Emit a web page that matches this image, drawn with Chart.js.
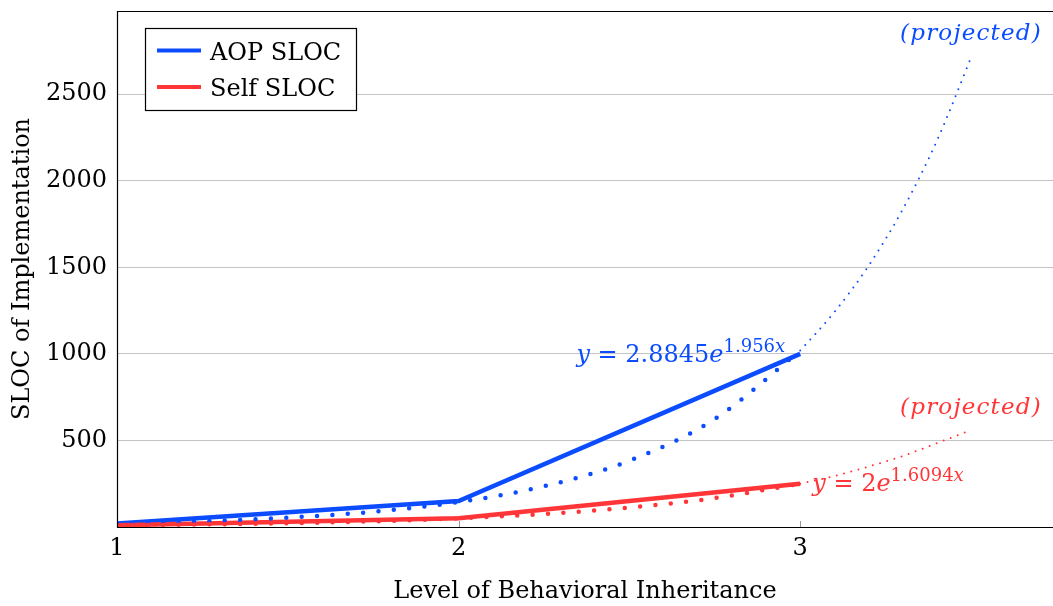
<!DOCTYPE html>
<html><head><meta charset="utf-8">
<script src="https://cdn.jsdelivr.net/npm/chart.js@4.4.0/dist/chart.umd.min.js"></script>
<style>html,body{margin:0;padding:0;background:#fff}#wrap{width:1053px;height:606px;position:relative}</style>
</head><body><div id="wrap"><canvas id="c"></canvas></div>
<script>
// ---- data ----
const levels = [1, 2, 3];
const aopSloc = [20, 150, 1000];
const selfSloc = [10, 50, 250];
const fitLevels = [1, 1.25, 1.5, 1.75, 2, 2.25, 2.5, 2.75, 3];
const aopFit = [20, 33, 54, 88, 144, 235, 383, 624, 1019];
const selfFit = [10, 15, 22, 33, 50, 75, 112, 167, 250];
const projLevels = [3, 3.1, 3.2, 3.3, 3.4, 3.5];
const aopProj = [1019, 1241, 1508, 1834, 2230, 2711];
const selfProj = [250, 294, 349, 410, 484, 559];
const xTicks = [1, 2, 3];
const yTicks = [500, 1000, 1500, 2000, 2500];
const seriesNames = ['AOP SLOC', 'Self SLOC'];
const xTitle = 'Level of Behavioral Inheritance';
const yTitle = 'SLOC of Implementation';
const aopEq = {coef: '2.8845', exp: '1.956'};
const selfEq = {coef: '2', exp: '1.6094'};
const projLabel = '(projected)';

const BLUE = '#0c4cff';
const RED = '#ff3538';
const FONT = "'DejaVu Serif', serif";

const pts = (xs, ys) => xs.map((x, i) => ({x, y: ys[i]}));

function runsWidth(ctx, runs) {
  let t = 0;
  runs.forEach(r => { ctx.font = (r.italic ? 'italic ' : '') + r.size + 'px ' + FONT; r.w = ctx.measureText(r.t).width; t += r.w; });
  return t;
}
function drawRuns(ctx, runs, x, y, align) {
  const total = runsWidth(ctx, runs);
  let cx = align === 'right' ? x - total : x;
  ctx.textAlign = 'left';
  ctx.textBaseline = 'alphabetic';
  runs.forEach(r => {
    ctx.font = (r.italic ? 'italic ' : '') + r.size + 'px ' + FONT;
    ctx.fillText(r.t, cx, y + (r.dy || 0));
    cx += r.w;
  });
}
function eqRuns(eq) {
  return [
    {t: 'y', italic: true, size: 24},
    {t: ' = ' + eq.coef, size: 24},
    {t: 'e', italic: true, size: 24},
    {t: eq.exp, size: 18, dy: -10},
    {t: 'x', italic: true, size: 18, dy: -10}
  ];
}

const decor = {
  id: 'decor',
  afterDraw(chart) {
    const {ctx, chartArea: a, scales: {x, y}} = chart;
    ctx.save();
    // x tick marks inside
    ctx.strokeStyle = '#9a9a9a'; ctx.lineWidth = 1;
    xTicks.forEach(v => {
      const px = Math.round(x.getPixelForValue(v)) + 0.5;
      ctx.beginPath(); ctx.moveTo(px, a.bottom); ctx.lineTo(px, a.bottom - 6); ctx.stroke();
    });
    // frame
    ctx.strokeStyle = '#000'; ctx.lineWidth = 1.2;
    ctx.beginPath();
    ctx.moveTo(a.right, a.top + 0.5); ctx.lineTo(a.left + 0.5, a.top + 0.5);
    ctx.lineTo(a.left + 0.5, a.bottom + 0.5); ctx.lineTo(a.right, a.bottom + 0.5);
    ctx.stroke();

    // equations
    ctx.fillStyle = BLUE;
    drawRuns(ctx, eqRuns(aopEq), x.getPixelForValue(3) - 15, y.getPixelForValue(1000) + 8, 'right');
    ctx.fillStyle = RED;
    drawRuns(ctx, eqRuns(selfEq), x.getPixelForValue(3) + 12, y.getPixelForValue(250) + 7, 'left');

    // projected labels
    ctx.font = 'italic 23px ' + FONT;
    ctx.textAlign = 'center'; ctx.textBaseline = 'alphabetic';
    ctx.letterSpacing = '1.2px';
    ctx.fillStyle = BLUE;
    ctx.fillText(projLabel, x.getPixelForValue(3.5), y.getPixelForValue(2711) - 18);
    ctx.fillStyle = RED;
    ctx.fillText(projLabel, x.getPixelForValue(3.5), y.getPixelForValue(559) - 16);
    ctx.letterSpacing = '0px';

    // legend
    const lx = 145, ly = 28, lw = 211, lh = 82;
    ctx.fillStyle = '#fff'; ctx.fillRect(lx, ly, lw, lh);
    ctx.strokeStyle = '#000'; ctx.lineWidth = 1.2;
    ctx.strokeRect(lx + 0.5, ly + 0.5, lw, lh);
    const cols = [BLUE, RED];
    const rows = [50.5, 87];
    ctx.font = '24px ' + FONT; ctx.textAlign = 'left'; ctx.textBaseline = 'alphabetic';
    seriesNames.forEach((n, i) => {
      ctx.strokeStyle = cols[i]; ctx.lineWidth = 4; ctx.lineCap = 'butt';
      ctx.beginPath(); ctx.moveTo(157, rows[i]); ctx.lineTo(201, rows[i]); ctx.stroke();
      ctx.fillStyle = '#000';
      ctx.fillText(n, 210, rows[i] + 9);
    });
    ctx.restore();
  }
};

Chart.defaults.font.family = FONT;
Chart.defaults.color = '#000';

new Chart(document.getElementById('c'), {
  type: 'line',
  data: {
    datasets: [
      {label: seriesNames[0], data: pts(levels, aopSloc), borderColor: BLUE, borderWidth: 4.5, pointRadius: 0, order: 4},
      {label: seriesNames[1], data: pts(levels, selfSloc), borderColor: RED, borderWidth: 4.5, pointRadius: 0, order: 3},
      {label: 'AOP fit', data: pts(fitLevels, aopFit), borderColor: BLUE, borderWidth: 4.5, borderDash: [0, 15.4], borderCapStyle: 'round', pointRadius: 0, cubicInterpolationMode: 'monotone', order: 2},
      {label: 'Self fit', data: pts(fitLevels, selfFit), borderColor: RED, borderWidth: 4.5, borderDash: [0, 15.4], borderCapStyle: 'round', pointRadius: 0, cubicInterpolationMode: 'monotone', order: 1},
      {label: 'AOP projected', data: pts(projLevels, aopProj), borderColor: BLUE, borderWidth: 2, borderDash: [0, 7.5], borderCapStyle: 'round', pointRadius: 0, cubicInterpolationMode: 'monotone', order: 0},
      {label: 'Self projected', data: pts(projLevels, selfProj), borderColor: RED, borderWidth: 2, borderDash: [0, 7.5], borderCapStyle: 'round', pointRadius: 0, cubicInterpolationMode: 'monotone', order: 0}
    ]
  },
  options: {
    responsive: true,
    maintainAspectRatio: false,
    animation: false,
    layout: {padding: {top: 11, right: 0, bottom: 0, left: 0}},
    plugins: {legend: {display: false}, tooltip: {enabled: false}},
    scales: {
      x: {
        type: 'linear', min: 1, max: 3.74,
        afterBuildTicks: s => { s.ticks = xTicks.map(v => ({value: v})); },
        afterFit: s => { s.height = 79; s.paddingLeft = 0; s.paddingRight = 0; },
        grid: {display: false, drawTicks: false},
        border: {display: false},
        ticks: {font: {size: 24}, padding: 7, maxRotation: 0, callback: v => String(v)},
        title: {display: true, text: xTitle, font: {size: 24}, padding: {top: 0, bottom: 0}}
      },
      y: {
        type: 'linear', min: 0, max: 2980,
        afterBuildTicks: s => { s.ticks = yTicks.map(v => ({value: v})); },
        afterFit: s => { s.width = 117; s.paddingTop = 0; s.paddingBottom = 0; },
        grid: {color: '#c4c4c4', lineWidth: 1, drawTicks: false},
        border: {display: false},
        ticks: {font: {size: 24}, padding: 10, callback: v => String(v)},
        title: {display: true, text: yTitle, font: {size: 24}, padding: {top: 8, bottom: 0}}
      }
    }
  },
  plugins: [decor]
});
</script></body></html>
